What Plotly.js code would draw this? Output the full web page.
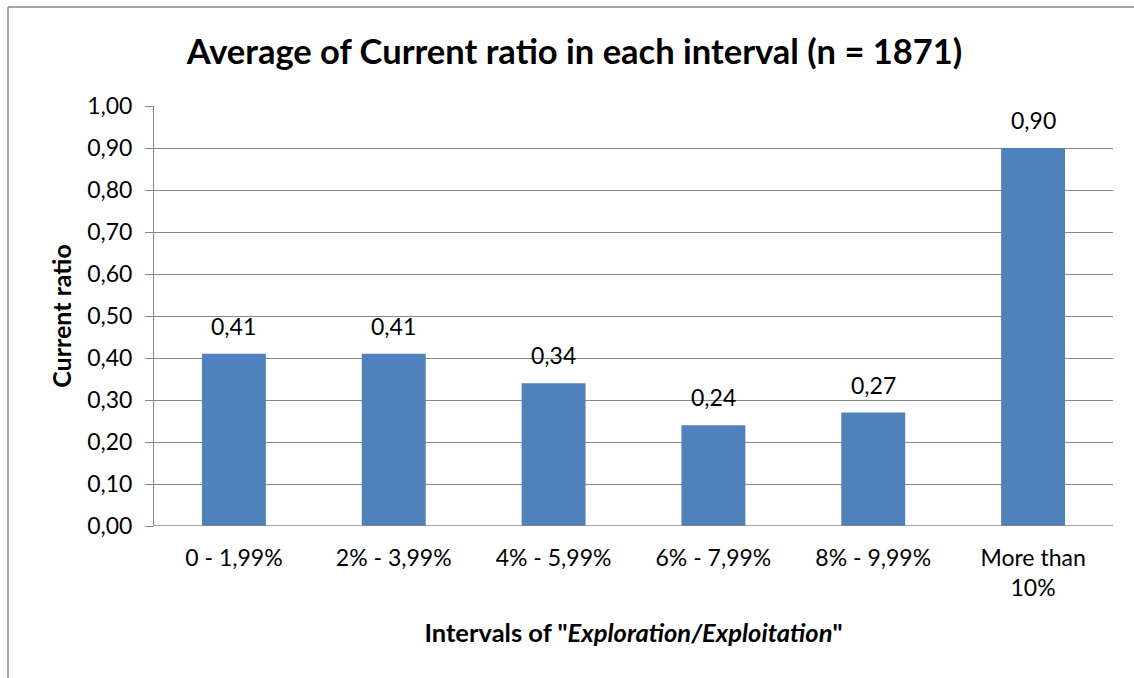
<!DOCTYPE html>
<html>
<head>
<meta charset="utf-8">
<script src="https://cdn.plot.ly/plotly-3.0.1.min.js"></script>
<style>
  html, body { margin: 0; padding: 0; background: #ffffff; }
  #chart { width: 1134px; height: 678px; }
</style>
</head>
<body>
<div id="chart"></div>
<script>
// Interval categories on the x axis
const intervals = ['0 - 1,99%', '2% - 3,99%', '4% - 5,99%', '6% - 7,99%', '8% - 9,99%', 'More than<br>10%'];
// Average current ratio per interval
const currentRatio = [0.41, 0.41, 0.34, 0.24, 0.27, 0.90];
// Y axis ticks
const yTicks = [0, 0.1, 0.2, 0.3, 0.4, 0.5, 0.6, 0.7, 0.8, 0.9, 1.0];

const fmt = v => v.toFixed(2).replace('.', ',');
const FONT = 'Lato, "Open Sans", sans-serif';
const GRID = '#878787';

const trace = {
  type: 'bar',
  x: intervals,
  y: currentRatio,
  marker: { color: '#4F81BD', line: { width: 0 } },
  hoverinfo: 'skip'
};

// Value labels above each bar
const labels = intervals.map((c, i) => ({
  x: c, y: currentRatio[i], xref: 'x', yref: 'y',
  text: fmt(currentRatio[i]), showarrow: false,
  yanchor: 'bottom', yshift: 12,
  font: { family: FONT, size: 23, color: '#000000' }
}));

// Outer chart frame (top and left edges)
const W = 1134, H = 678, L = 154, R = 21, T = 106, B = 152;
const pw = W - L - R, ph = H - T - B;
const px = p => (p - L) / pw;
const py = p => (H - B - p) / ph;

const layout = {
  width: W, height: H,
  margin: { l: L, r: R, t: T, b: B, pad: 0 },
  paper_bgcolor: '#ffffff', plot_bgcolor: '#ffffff',
  separators: ',.',
  showlegend: false,
  bargap: 0.6,
  font: { family: FONT, size: 23, color: '#000000' },
  title: {
    text: '<b>Average of Current ratio in each interval (n = 1871)</b>',
    font: { family: FONT, size: 34.5, color: '#000000' },
    x: 574.5 / W, xanchor: 'center', xref: 'container',
    y: 1 - 52 / H, yanchor: 'middle', yref: 'container'
  },
  xaxis: {
    type: 'category',
    showline: false, showgrid: false, zeroline: false,
    ticks: '', ticklabelstandoff: 16,
    tickfont: { family: FONT, size: 23 },
    title: {
      text: '<b>Intervals of "<i>Exploration/Exploitation</i>"</b>',
      font: { family: FONT, size: 25.5 }, standoff: 24
    }
  },
  yaxis: {
    range: [0, 1.0],
    tickvals: yTicks,
    ticktext: yTicks.map(fmt),
    showgrid: true, gridcolor: GRID, gridwidth: 1,
    zeroline: false,
    showline: true, linecolor: GRID, linewidth: 1,
    ticks: 'outside', ticklen: 8, tickcolor: GRID,
    ticklabelstandoff: 8,
    tickfont: { family: FONT, size: 23 },
    title: {
      text: '<b>Current ratio</b>',
      font: { family: FONT, size: 25 }, standoff: 8
    }
  },
  shapes: [
    { type: 'line', xref: 'paper', yref: 'paper', x0: px(8), x1: px(1134), y0: py(7), y1: py(7), line: { color: '#888888', width: 1.5 } },
    { type: 'line', xref: 'paper', yref: 'paper', x0: px(8), x1: px(8), y0: py(7), y1: py(678), line: { color: '#888888', width: 1.5 } },
    { type: 'line', xref: 'paper', yref: 'y', x0: 0, x1: 1, y0: 0, y1: 0, line: { color: GRID, width: 1.5 } }
  ],
  annotations: labels
};

Plotly.newPlot('chart', [trace], layout, { displayModeBar: false, staticPlot: true });
</script>
</body>
</html>
